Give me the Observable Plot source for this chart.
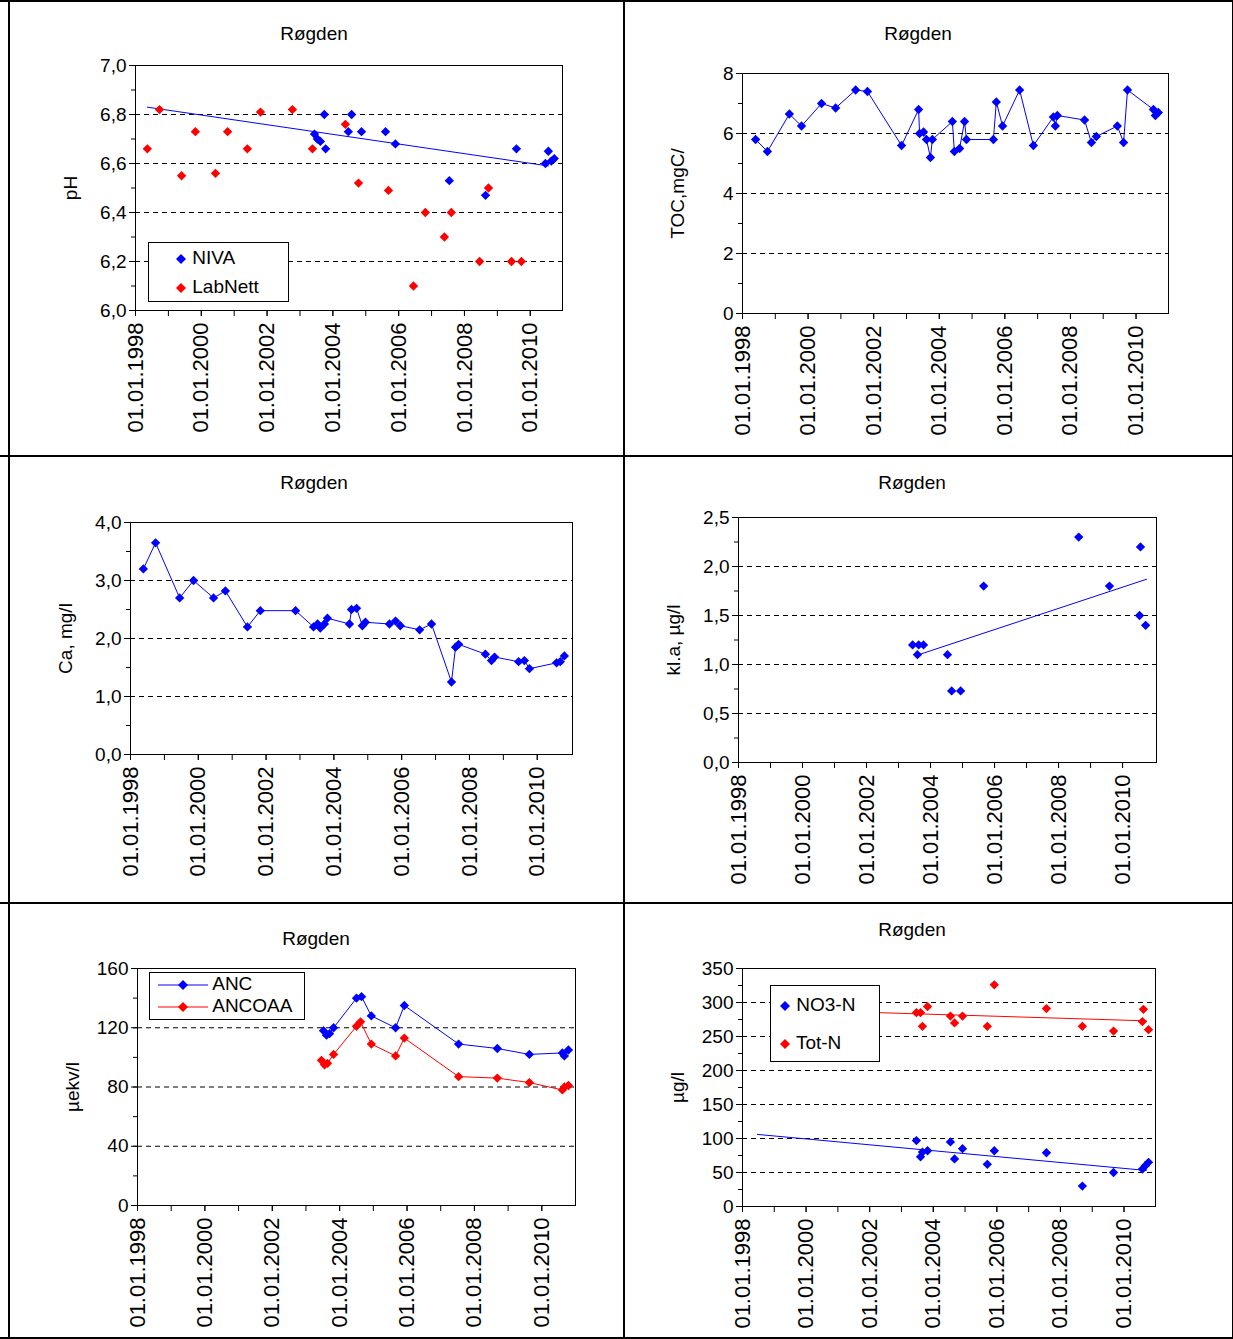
<!DOCTYPE html>
<html><head><meta charset="utf-8">
<script src="https://cdn.jsdelivr.net/npm/d3@7"></script>
<script src="https://cdn.jsdelivr.net/npm/@observablehq/plot@0.6"></script>
<style>
body{margin:0;background:#fff;font-family:"Liberation Sans",Arial,sans-serif;}
#wrap{position:relative;width:1233px;height:1339px;overflow:hidden}
.ln{position:absolute;background:#000}
.ttl{position:absolute;font-size:19px;text-align:center;width:300px}
.leg{position:absolute;border:1px solid #000;background:#fff;font-size:19px}
</style></head><body><div id="wrap"></div>
<script>
// decimal years
const phNivaYear = [2003.44,2003.53,2003.62,2003.74,2003.78,2004.47,2004.57,2004.87,2005.60,2005.90,2007.54,2008.64,2009.58,2010.46,2010.55,2010.64,2010.73];
const phNiva     = [6.72,6.70,6.69,6.80,6.66,6.73,6.80,6.73,6.73,6.68,6.53,6.47,6.66,6.60,6.65,6.61,6.62];
const phLabYear  = [1998.36,1998.73,1999.40,1999.82,2000.43,2000.80,2001.40,2001.80,2002.77,2003.38,2004.38,2004.78,2005.69,2006.45,2006.81,2007.39,2007.60,2008.46,2008.73,2009.43,2009.73];
const phLab      = [6.66,6.82,6.55,6.73,6.56,6.73,6.66,6.81,6.82,6.66,6.76,6.52,6.49,6.10,6.40,6.30,6.40,6.20,6.50,6.20,6.20];
const phTrend    = [[1998.36,6.83],[2010.55,6.59]];

const tocYear = [1998.40,1998.76,1999.43,1999.80,2000.41,2000.84,2001.45,2001.81,2002.85,2003.37,2003.40,2003.52,2003.61,2003.73,2003.79,2004.40,2004.46,2004.62,2004.77,2004.83,2005.65,2005.74,2005.93,2006.45,2006.87,2007.48,2007.54,2007.60,2008.43,2008.64,2008.79,2009.43,2009.62,2009.74,2010.53,2010.59,2010.68];
const toc     = [5.8,5.4,6.65,6.25,7.0,6.85,7.45,7.4,5.6,6.8,6.0,6.05,5.8,5.2,5.8,6.4,5.4,5.5,6.4,5.8,5.8,7.05,6.25,7.45,5.6,6.55,6.25,6.6,6.45,5.7,5.9,6.25,5.7,7.45,6.8,6.6,6.7];

const caYear = [1998.38,1998.74,1999.45,1999.86,2000.45,2000.80,2001.45,2001.83,2002.87,2003.40,2003.52,2003.60,2003.72,2003.81,2004.46,2004.52,2004.67,2004.84,2004.93,2005.64,2005.82,2005.96,2006.53,2006.88,2007.47,2007.59,2007.68,2008.47,2008.65,2008.74,2009.45,2009.62,2009.77,2010.57,2010.68,2010.80];
const ca     = [3.2,3.65,2.7,3.0,2.7,2.82,2.2,2.48,2.48,2.2,2.25,2.18,2.25,2.35,2.25,2.5,2.52,2.22,2.28,2.25,2.3,2.22,2.15,2.25,1.25,1.85,1.9,1.73,1.62,1.68,1.6,1.62,1.48,1.58,1.6,1.7];

const klaYear = [2003.44,2003.59,2003.63,2003.78,2004.53,2004.66,2004.94,2005.66,2008.63,2009.59,2010.56,2010.53,2010.72];
const kla     = [1.2,1.1,1.2,1.2,1.1,0.73,0.73,1.8,2.3,1.8,2.2,1.5,1.4];
const klaTrend = [[2003.63,1.1],[2010.75,1.87]];

const ancYear   = [2003.52,2003.61,2003.70,2003.82,2004.50,2004.65,2004.94,2005.66,2005.92,2007.53,2008.68,2009.63,2010.61,2010.67,2010.79];
const anc       = [118,115,116,120,140,141,128,120,135,109,106,102,103,101,105];
const ancoaaYear= [2003.46,2003.55,2003.64,2003.82,2004.50,2004.62,2004.94,2005.66,2005.92,2007.53,2008.68,2009.63,2010.61,2010.67,2010.79];
const ancoaa    = [98,95,96,102,121,124,109,101,113,87,86,83,78,80,81];

const nYear = [2003.47,2003.60,2003.66,2003.82,2004.54,2004.67,2004.92,2005.70,2005.92,2007.56,2008.69,2009.67,2010.58,2010.67,2010.77];
const no3   = [97,73,80,82,95,70,85,62,82,79,30,50,55,60,65];
const totNYear = [2003.47,2003.60,2003.66,2003.82,2004.54,2004.67,2004.92,2005.70,2005.92,2007.56,2008.69,2009.67,2010.58,2010.61,2010.77];
const totN  = [285,285,265,294,280,270,280,265,326,291,265,258,272,290,260];
const no3Trend = [[1998.47,106],[2010.70,53]];
const totNTrend = [[2002.34,285],[2010.70,273]];

const xTicks = [1998,2000,2002,2004,2006,2008,2010];
const xMinor = d3.range(1998,2011);
const BLUE="#0000ff", RED="#ff0000";

const wrap=document.getElementById("wrap");
function add(html){wrap.insertAdjacentHTML("beforeend",html);}
// cell grid
[[0,0,1233,2],[0,455,1233,1.5],[0,902,1233,1.5],[0,1337,1233,2],[8,0,1.5,1339],[623,0,1.5,1339],[1232,0,1.5,1339]]
  .forEach(([x,y,w,h])=>add(`<div class="ln" style="left:${x}px;top:${y}px;width:${w}px;height:${h}px"></div>`));

const pts=(xs,ys)=>xs.map((x,i)=>({x,y:ys[i]}));
const line2=(p)=>p.map(([x,y])=>({x,y}));

function panel(c){
  const mL=90,mT=12,mR=12,mB=140;
  const w=c.x1-c.x0, h=c.y1-c.y0;
  const grid=c.yTicks.filter(v=>v>c.yDomain[0]&&v<c.yDomain[1]);
  const yMinor=d3.range(c.yTicks.length*2-1).map(i=>c.yDomain[0]+(c.yTicks[1]-c.yTicks[0])*i/2);
  const marks=[
    Plot.ruleY(grid,{stroke:"#000",strokeWidth:1,strokeDasharray:"5,4"}),
    Plot.axisX({ticks:xMinor,tickFormat:()=>"",tickSize:6,label:null}),
    Plot.axisX({ticks:xTicks,tickFormat:d=>"01.01."+d,tickRotate:-90,tickSize:6,tickPadding:6,fontSize:22,label:null}),
    Plot.axisY({ticks:yMinor,tickFormat:()=>"",tickSize:4,label:null}),
    Plot.axisY({ticks:c.yTicks,tickFormat:c.fmt,tickSize:6,fontSize:19,label:c.ylabel,labelAnchor:"center",labelArrow:"none",labelOffset:c.labelOffset||72}),
    ...c.marks,
    Plot.frame({stroke:"#000"})
  ];
  const svg=Plot.plot({
    width:w+mL+mR,height:h+mT+mB,marginLeft:mL,marginTop:mT,marginRight:mR,marginBottom:mB,
    x:{domain:[1998,c.xEnd]},y:{domain:c.yDomain},
    style:{fontFamily:"Liberation Sans, Arial, sans-serif",fontSize:"19px",color:"#000",background:"transparent",overflow:"visible"},
    marks
  });
  svg.style.position="absolute";svg.style.left=(c.x0-mL)+"px";svg.style.top=(c.y0-mT)+"px";
  wrap.appendChild(svg);
  add(`<div class="ttl" style="left:${c.tx-150}px;top:${c.ty}px">Røgden</div>`);
}
const f1=d=>d.toFixed(1).replace(".",",");
const f0=d=>String(d);
const dia=(data,color)=>Plot.dot(data,{x:"x",y:"y",symbol:"diamond2",r:4.2,fill:color,stroke:null});
const ln=(data,color)=>Plot.line(data,{x:"x",y:"y",stroke:color,strokeWidth:1});

panel({x0:135,x1:562,y0:65,y1:310,xEnd:2010.98,yDomain:[6,7],yTicks:d3.range(6,7.01,0.2),fmt:f1,ylabel:"pH",tx:314,ty:23,
  marks:[ln(line2(phTrend),BLUE),dia(pts(phLabYear,phLab),RED),dia(pts(phNivaYear,phNiva),BLUE)]});
panel({x0:742,x1:1168,y0:73,y1:313,xEnd:2010.99,yDomain:[0,8],yTicks:[0,2,4,6,8],fmt:f0,ylabel:"TOC,mgC/",tx:918,ty:23,
  marks:[ln(pts(tocYear,toc),BLUE),dia(pts(tocYear,toc),BLUE)]});
panel({x0:130,x1:572,y0:522,y1:754,xEnd:2011.04,yDomain:[0,4],yTicks:[0,1,2,3,4],fmt:f1,ylabel:"Ca, mg/l",tx:314,ty:472,
  marks:[ln(pts(caYear,ca),BLUE),dia(pts(caYear,ca),BLUE)]});
panel({x0:738,x1:1156,y0:517,y1:762,xEnd:2011.06,yDomain:[0,2.5],yTicks:[0,0.5,1,1.5,2,2.5],fmt:f1,ylabel:"kl.a, µg/l",tx:912,ty:472,
  marks:[ln(line2(klaTrend),BLUE),dia(pts(klaYear,kla),BLUE)]});
panel({x0:137,x1:575,y0:968,y1:1205,xEnd:2011.0,yDomain:[0,160],yTicks:[0,40,80,120,160],fmt:f0,ylabel:"µekv/l",tx:316,ty:928,
  marks:[ln(pts(ancYear,anc),BLUE),dia(pts(ancYear,anc),BLUE),ln(pts(ancoaaYear,ancoaa),RED),dia(pts(ancoaaYear,ancoaa),RED)]});
panel({x0:742,x1:1155,y0:968,y1:1206,xEnd:2010.99,yDomain:[0,350],yTicks:[0,50,100,150,200,250,300,350],fmt:f0,ylabel:"µg/l",tx:912,ty:919,
  marks:[ln(line2(no3Trend),BLUE),ln(line2(totNTrend),RED),dia(pts(nYear,no3),BLUE),dia(pts(totNYear,totN),RED)]});

// legends
const d=(c)=>`<svg width="12" height="12" style="vertical-align:middle"><path d="M6 1L11 6L6 11L1 6Z" fill="${c}"/></svg>`;
const dl=(c)=>`<svg width="50" height="12" style="vertical-align:middle"><line x1="0" y1="6" x2="50" y2="6" stroke="${c}"/><path d="M25 1L30 6L25 11L20 6Z" fill="${c}"/></svg>`;
add(`<div class="leg" style="left:148px;top:242px;width:141px;height:60px;line-height:29px;padding-left:26px;box-sizing:border-box">${d(BLUE)} NIVA<br>${d(RED)} LabNett</div>`);
add(`<div class="leg" style="left:149px;top:972px;width:156px;height:48px;line-height:22px;padding-left:8px;box-sizing:border-box">${dl(BLUE)} ANC<br>${dl(RED)} ANCOAA</div>`);
add(`<div class="leg" style="left:770px;top:985px;width:110px;height:77px;line-height:38px;padding-left:8px;box-sizing:border-box">${d(BLUE)} NO3-N<br>${d(RED)} Tot-N</div>`);
</script></body></html>
